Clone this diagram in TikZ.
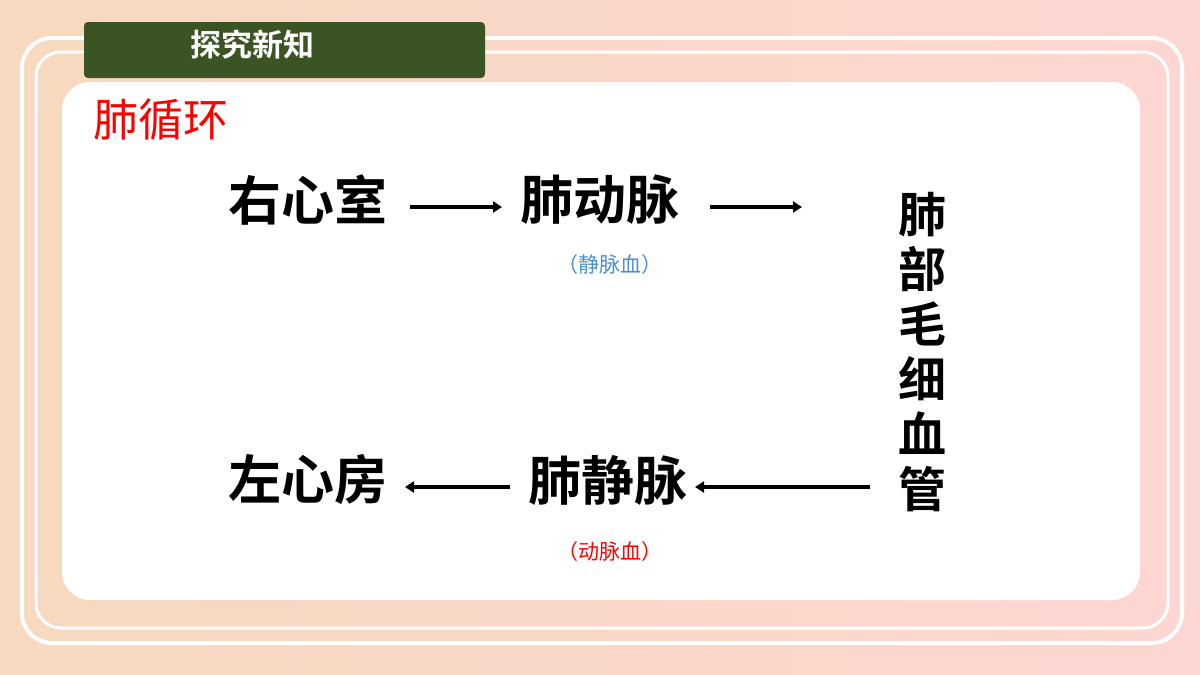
\documentclass[tikz,border=0pt]{standalone}
\usepackage{fontspec}
\newfontfamily\cjk{Noto Sans CJK SC}
\newfontfamily\cjkb{Noto Sans CJK SC Bold}
\usetikzlibrary{arrows.meta}
\definecolor{bgA}{HTML}{F7D9BF}
\definecolor{bgB}{HTML}{FDD6D2}
\definecolor{hdr}{HTML}{3A5424}
\definecolor{blu}{HTML}{4A8FD0}
\begin{document}
\begin{tikzpicture}[x=1pt,y=-1pt,
  big/.style={font=\cjkb\fontsize{53}{53}\selectfont,text=black,inner sep=0pt},
  vch/.style={font=\cjkb\fontsize{48}{55}\selectfont,text=black,inner sep=0pt},
  lab/.style={font=\cjk\fontsize{21}{21}\selectfont,inner sep=0pt},
  arr/.style={line width=4.5pt,-{Triangle[length=9pt,width=11pt]}}]
\useasboundingbox (0,0) rectangle (1200,675);
\shade[left color=bgA,right color=bgB] (0,0) rectangle (1200,675);
\draw[white,line width=4pt,rounded corners=30] (22,38) rectangle (1182,643);
\draw[white,line width=3pt,rounded corners=25] (36,52) rectangle (1168,628);
\fill[white,rounded corners=28] (62,82) rectangle (1140,600);
\fill[hdr,rounded corners=4] (84,22) rectangle (485,78);
\node[font=\cjkb\fontsize{31}{31}\selectfont,text=white,inner sep=0pt] (h) at (252,45) {探究新知};
\node[font=\cjk\fontsize{45}{45}\selectfont,text=red,anchor=west,inner sep=0pt] (t) at (93,120) {肺循环};
\node[big] (rv) at (308,200) {右心室};
\node[big] (pa) at (600,200) {肺动脉};
\node[big] (la) at (308,480) {左心房};
\node[big] (pv) at (608,480) {肺静脉};
\node[lab,text=blu] (l1) at (610,265) {（静脉血）};
\node[lab,text=red] (l2) at (610,552) {（动脉血）};
\node[vch,align=center] (cap) at (922,352) {肺\\部\\毛\\细\\血\\管};
\coordinate (a0) at (410,207);
\coordinate (a1) at (502,207);
\coordinate (b0) at (710,207);
\coordinate (b1) at (802,207);
\coordinate (c0) at (870,487);
\coordinate (c1) at (695,487);
\coordinate (d0) at (510,487);
\coordinate (d1) at (405,487);
\draw[arr] (a0) -- (a1);
\draw[arr] (b0) -- (b1);
\draw[arr] (c0) -- (c1);
\draw[arr] (d0) -- (d1);
\end{tikzpicture}
\end{document}
